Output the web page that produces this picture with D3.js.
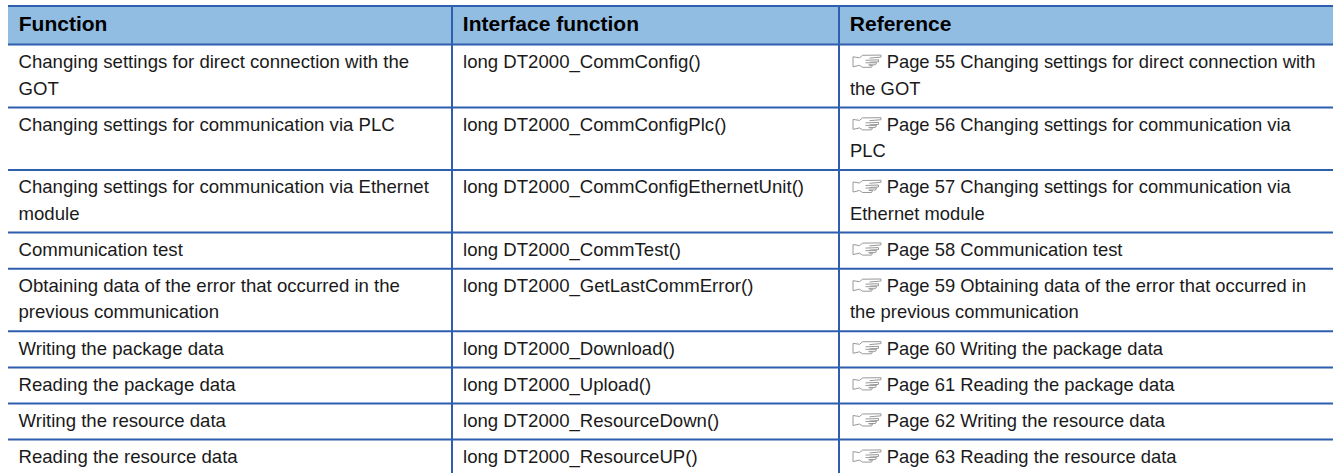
<!DOCTYPE html>
<html>
<head>
<meta charset="utf-8">
<script src="https://cdn.jsdelivr.net/npm/d3@7"></script>
<style>
html, body { margin: 0; padding: 0; background: #fff; overflow: hidden; }
text { font-family: "Liberation Sans", Arial, sans-serif; font-size: 18.6px; fill: #1a1a1a; }
.head { font-weight: bold; font-size: 21px; fill: #000; }
.ref { font-size: 18.38px; }
</style>
</head>
<body>
<div id="chart"></div>
<script>
var width = 1333, height = 473;

var headers = ["Function", "Interface function", "Reference"];
var functionLines = [
    ["Changing settings for direct connection with the", "GOT"],
    ["Changing settings for communication via PLC"],
    ["Changing settings for communication via Ethernet", "module"],
    ["Communication test"],
    ["Obtaining data of the error that occurred in the", "previous communication"],
    ["Writing the package data"],
    ["Reading the package data"],
    ["Writing the resource data"],
    ["Reading the resource data"]
];
var interfaceNames = [
    "long DT2000_CommConfig()",
    "long DT2000_CommConfigPlc()",
    "long DT2000_CommConfigEthernetUnit()",
    "long DT2000_CommTest()",
    "long DT2000_GetLastCommError()",
    "long DT2000_Download()",
    "long DT2000_Upload()",
    "long DT2000_ResourceDown()",
    "long DT2000_ResourceUP()"
];
var referenceLines = [
    ["Page 55 Changing settings for direct connection with", "the GOT"],
    ["Page 56 Changing settings for communication via", "PLC"],
    ["Page 57 Changing settings for communication via", "Ethernet module"],
    ["Page 58 Communication test"],
    ["Page 59 Obtaining data of the error that occurred in", "the previous communication"],
    ["Page 60 Writing the package data"],
    ["Page 61 Reading the package data"],
    ["Page 62 Writing the resource data"],
    ["Page 63 Reading the resource data"]
];

var lineColor = "#2e5fae", headFill = "#92bde3";
var tableLeft = 8, tableRight = 1333, colX = [8, 452, 839];
var tableTop = 6, headBottom = 44.8;
var rowPad = 9.6, lineHeight = 26.5;

// row height follows the tallest cell of the row
var rowTops = [headBottom];
functionLines.forEach(function (d, i) {
    var n = Math.max(d.length, referenceLines[i].length);
    rowTops.push(rowTops[i] + rowPad + n * lineHeight);
});

var svg = d3.select("#chart").append("svg")
    .attr("width", width)
    .attr("height", height)
    .style("display", "block");

svg.append("rect")
    .attr("x", tableLeft).attr("y", tableTop)
    .attr("width", tableRight - tableLeft).attr("height", headBottom - tableTop)
    .attr("fill", headFill);

// horizontal rules
svg.selectAll(".hline")
    .data([tableTop, headBottom - 0.3].concat(rowTops.slice(1)))
    .enter().append("line")
    .attr("class", "hline")
    .attr("x1", tableLeft).attr("x2", tableRight)
    .attr("y1", function (d) { return d; })
    .attr("y2", function (d) { return d; })
    .attr("stroke", lineColor)
    .attr("stroke-width", 2);

// column rules
svg.selectAll(".vline")
    .data(colX.slice(1))
    .enter().append("line")
    .attr("class", "vline")
    .attr("x1", function (d) { return d; })
    .attr("x2", function (d) { return d; })
    .attr("y1", tableTop).attr("y2", height)
    .attr("stroke", lineColor)
    .attr("stroke-width", 2);

svg.selectAll(".head")
    .data(headers)
    .enter().append("text")
    .attr("class", "head")
    .attr("x", function (d, i) { return colX[i] + 10.8; })
    .attr("y", 30.5)
    .text(function (d) { return d; });

function drawLines(lines, x, firstX, cls) {
    lines.forEach(function (row, i) {
        row.forEach(function (t, j) {
            svg.append("text")
                .attr("class", cls || null)
                .attr("x", (j === 0 && firstX) ? firstX : x)
                .attr("y", rowTops[i] + 23.2 + j * lineHeight)
                .text(t);
        });
    });
}

drawLines(functionLines, colX[0] + 10.5);
drawLines(interfaceNames.map(function (d) { return [d]; }), colX[1] + 11);
drawLines(referenceLines, colX[2] + 11, colX[2] + 47.7, "ref");

// pointing hand marker in front of each reference
var hand = "M0.5 2.5 L0.5 12.5 L7 11 L10 13 L19 13 L20 11 L16.5 11 M7 3.5 L0.5 2.5 M7 3.5 L10 1 L28.5 0.8 L28.5 2.8 L17 3.8 M13 6 L26 5.5 L26 7.5 L17 8 M13 8.5 L24 8.5 L23 10.5 L16 10.5";
svg.selectAll(".hand")
    .data(referenceLines)
    .enter().append("path")
    .attr("class", "hand")
    .attr("transform", function (d, i) { return "translate(" + (colX[2] + 13.5) + "," + (rowTops[i] + 9.5) + ")"; })
    .attr("d", hand)
    .attr("fill", "none")
    .attr("stroke", "#999999")
    .attr("stroke-width", 1);
</script>
</body>
</html>
